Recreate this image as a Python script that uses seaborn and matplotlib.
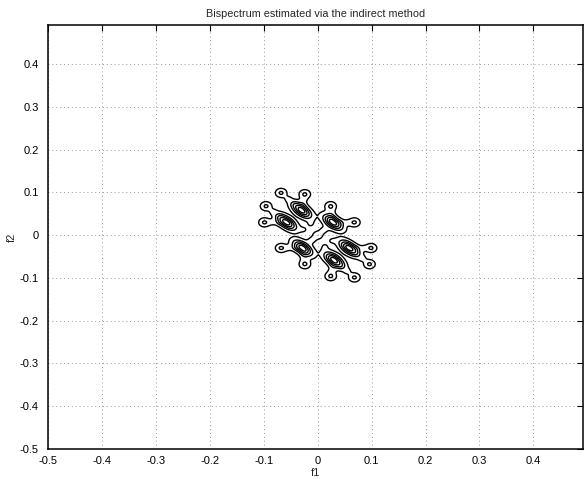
import numpy as np
import matplotlib
matplotlib.use("Agg")
import matplotlib.pyplot as plt
import seaborn as sns

# Peak clusters of the bispectrum magnitude (f1, f2), normalised frequency
blob_f1 = [-0.030, -0.058, 0.028, -0.028, 0.058, 0.030]
blob_f2 = [0.058, 0.030, 0.030, -0.030, -0.030, -0.058]
blob_amp = [1.0, 1.0, 1.0, 1.0, 1.0, 1.0]

# Outer side lobes ("knobs") around each cluster
knob_f1 = [-0.024, -0.068, -0.096, -0.099, 0.024, 0.068,
           0.024, 0.068, 0.096, 0.099, -0.024, -0.068]
knob_f2 = [0.096, 0.099, 0.068, 0.030, 0.068, 0.030,
           -0.096, -0.099, -0.068, -0.030, -0.068, -0.030]
knob_amp = [0.34] * 12

# weak central lobe that ties the clusters together
centre_amp = 0.13

contour_levels = [0.10, 0.30, 0.50, 0.70, 0.88]

tick_vals = [-0.5, -0.4, -0.3, -0.2, -0.1, 0.0, 0.1, 0.2, 0.3, 0.4]
tick_text = ["-0.5", "-0.4", "-0.3", "-0.2", "-0.1", "0", "0.1", "0.2", "0.3", "0.4"]

nfft = 128
freq = np.arange(-nfft // 2, nfft // 2) / nfft
F1, F2 = np.meshgrid(np.linspace(freq[0], freq[-1], 800),
                     np.linspace(freq[0], freq[-1], 800))


def lobe(cx, cy, amp, s_major, s_minor):
    # elliptical lobe oriented along the anti-diagonal
    u = ((F1 - cx) - (F2 - cy)) / np.sqrt(2)
    v = ((F1 - cx) + (F2 - cy)) / np.sqrt(2)
    return amp * np.exp(-0.5 * ((u / s_major) ** 2 + (v / s_minor) ** 2))


B = np.zeros_like(F1)
for x, y, a in zip(blob_f1, blob_f2, blob_amp):
    B += lobe(x, y, a, 0.015, 0.0078)
    # ridge from each cluster towards the centre
    B += lobe(0.45 * x, 0.45 * y, 0.09, 0.006, 0.006)
# knobs, each joined to its nearest cluster by a thin arm
for x, y, a in zip(knob_f1, knob_f2, knob_amp):
    B += lobe(x, y, a, 0.0068, 0.0068)
    d = [(x - bx) ** 2 + (y - by) ** 2 for bx, by in zip(blob_f1, blob_f2)]
    k = int(np.argmin(d))
    for t in (0.35, 0.65):
        mx, my = blob_f1[k] + t * (x - blob_f1[k]), blob_f2[k] + t * (y - blob_f2[k])
        B += lobe(mx, my, 0.12, 0.0052, 0.0052)
B += lobe(0.0, 0.0, centre_amp, 0.012, 0.012)

sns.set_style("white")
plt.rcParams["font.family"] = ["Liberation Sans", "DejaVu Sans"]

fig = plt.figure(figsize=(5.84, 4.79), dpi=100)
ax = fig.add_axes([48.3 / 584, 1 - 448.7 / 479, (583 - 48.3) / 584, (448.7 - 25) / 479])

ax.contour(F1, F2, B, levels=contour_levels, colors="black", linewidths=1.0)

ax.set_xlim(freq[0], freq[-1])
ax.set_ylim(freq[0], freq[-1])
ax.set_xticks(tick_vals)
ax.set_xticklabels(tick_text)
ax.set_yticks(tick_vals)
ax.set_yticklabels(tick_text)
ax.tick_params(direction="in", length=4, width=0.8, top=True, right=True,
               labelsize=8, pad=5, colors="black")
ax.tick_params(axis="y", pad=7)
ax.grid(True, linestyle=(0, (1, 3)), color="#9a9a9a", linewidth=0.7)
for s in ax.spines.values():
    s.set_color("black")
    s.set_linewidth(1.1)

ax.set_title("Bispectrum estimated via the indirect method", fontsize=7.8, pad=6)
ax.set_xlabel("f1", fontsize=8, labelpad=2)
ax.set_ylabel("f2", fontsize=8, labelpad=2)

fig.savefig("out.png", dpi=100, facecolor="white")
